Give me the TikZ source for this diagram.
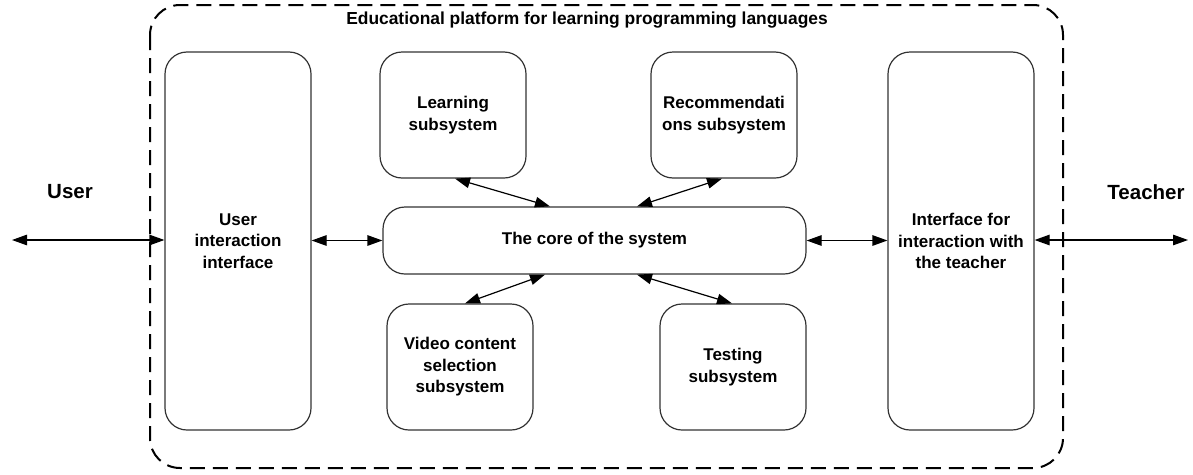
\documentclass[tikz,border=0pt]{standalone}
\usepackage{fontspec}
\setmainfont{Liberation Sans}
\usetikzlibrary{arrows.meta}
\begin{document}
\begin{tikzpicture}[x=1pt,y=-1pt,
  box/.style={draw=black!80,line width=1.2pt,rounded corners=22pt,align=center,
    font=\fontsize{17}{21.5}\selectfont\bfseries,inner sep=0pt},
  link/.style={line width=1.2pt,{Triangle[length=15pt,width=10.5pt]}-{Triangle[length=15pt,width=10.5pt]}},
  actor/.style={font=\fontsize{20.5}{24}\selectfont\bfseries}]
\useasboundingbox (0,0) rectangle (1193,474);
% dashed platform frame
\draw[line width=2pt,dash pattern=on 15pt off 8pt,rounded corners=30pt] (150,5) rectangle (1063,468);
\node[font=\fontsize{17.4}{20}\selectfont\bfseries] (title) at (587,20) {Educational platform for learning programming languages};
% subsystem boxes
\node[box,minimum width=146pt,minimum height=378pt] (ui) at (238,241) {User\\interaction\\interface};
\node[box,minimum width=146pt,minimum height=126pt] (learn) at (453,115) {Learning\\subsystem};
\node[box,minimum width=146pt,minimum height=126pt] (rec) at (724,115) {Recommendati\\ons subsystem};
\node[box,minimum width=423pt,minimum height=67pt] (core) at (594.5,240.5) {The core of the system};
\node[box,minimum width=146pt,minimum height=126pt] (video) at (460,367) {Video content\\selection\\subsystem};
\node[box,minimum width=146pt,minimum height=126pt] (test) at (733,367) {Testing\\subsystem};
\node[box,minimum width=146pt,minimum height=378pt] (ti) at (961,241) {Interface for\\interaction with\\the teacher};
% actors
\node[actor] (user) at (70,192) {User};
\node[actor] (teacher) at (1146,192) {Teacher};
\coordinate (uend) at (12,240);
\coordinate (tend) at (1188,240);
% connectors
\draw[link] (uend) -- (ui.west |- uend);
\draw[link] (ti.east |- tend) -- (tend);
\draw[link] (ui.east |- core.west) -- (core.west);
\draw[link] (core.east) -- (ti.west |- core.east);
\draw[link] ([xshift=2pt]learn.south) -- ([xshift=-44.5pt]core.north);
\draw[link] ([xshift=-2pt]rec.south) -- ([xshift=42.5pt]core.north);
\draw[link] ([xshift=5pt]video.north) -- ([xshift=-49.5pt]core.south);
\draw[link] ([xshift=42.5pt]core.south) -- ([xshift=-1pt]test.north);
\end{tikzpicture}
\end{document}
